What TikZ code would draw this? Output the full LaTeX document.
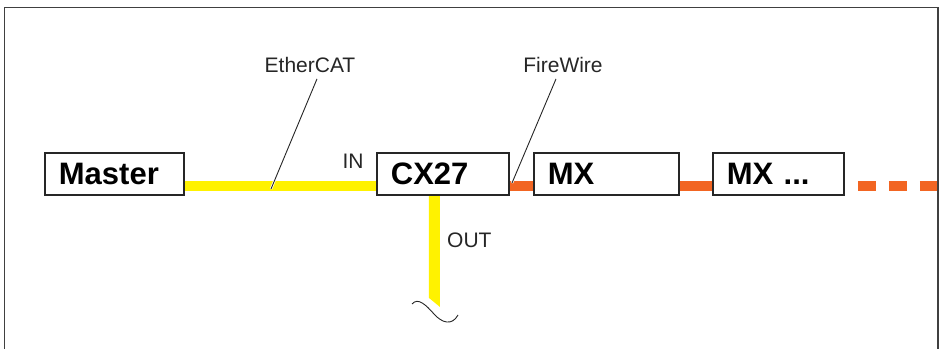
\documentclass[tikz,border=0pt]{standalone}
\usepackage{fontspec}
\setmainfont{Liberation Sans}
\usetikzlibrary{positioning, calc, backgrounds}

\definecolor{ecyellow}{HTML}{FFF200}
\definecolor{fworange}{HTML}{F26522}

\begin{document}
\begin{tikzpicture}[
    x=1pt, y=1pt,
    device/.style={rectangle, draw=black!85, line width=1.8pt, fill=white, anchor=west, minimum height=42pt, inner xsep=14pt, align=left, font=\fontsize{31}{31}\selectfont\bfseries},
    lbl/.style={font=\fontsize{21}{21}\selectfont, text=black!85, inner sep=0pt},
    ethercat/.style={ecyellow, line width=10.5pt},
    firewire/.style={fworange, line width=10.5pt},
    leader/.style={black!85, line width=0.9pt, preaction={draw=white, line width=2.4pt}},
]
\useasboundingbox (0,0) rectangle (939,348);

% Frame
\draw[black!75, line width=1.4pt] (4.5,-5) -- (4.5,340.5) -- (938,340.5) -- (938,-5);

% Nodes
\node[device, text width=111pt] (master) at (44,174) {Master};
\node[device, text width=104pt] (cx) at (376,174) {CX27};
\node[device, text width=117pt] (mx) at (533,174) {MX};
\node[device, text width=103pt] (mxn) at (712,174) {MX ...};
\coordinate (busend) at (939,162);

% Cables
\begin{scope}[on background layer]
\draw[ethercat] ([yshift=-12pt]master.east) -- ([yshift=-12pt]cx.west);
\fill[ecyellow] ([xshift=-14pt]cx.south) -- ([xshift=-3pt]cx.south) -- ++(0,-111) -- ++(-11,9) -- cycle;
\draw[firewire] ([yshift=-12pt]cx.east) -- ([yshift=-12pt]mx.west);
\draw[firewire] ([yshift=-12pt]mx.east) -- ([yshift=-12pt]mxn.west);
\draw[firewire, dash pattern=on 18pt off 13pt, dash phase=18pt] ([yshift=-12pt]mxn.east) -- (busend);
\end{scope}

% Cable break
\draw[black!85, line width=0.9pt] (412,44) .. controls (418,51) and (426,43) .. (434,34) .. controls (442,25) and (452,22) .. (458,33);

% Labels
\node[lbl] (ecname) at (310,283) {EtherCAT};
\node[lbl] (fwname) at (563,283) {FireWire};
\node[lbl] (inname) at (353,187) {IN};
\node[lbl, anchor=west] (outname) at (447,108) {OUT};
\coordinate (ectap) at (271,159);
\coordinate (fwtap) at (512,165);
\draw[leader] ([xshift=7pt, yshift=-6pt]ecname.south) -- (ectap);
\draw[leader] ([xshift=-7pt, yshift=-6pt]fwname.south) -- (fwtap);

\end{tikzpicture}
\end{document}
